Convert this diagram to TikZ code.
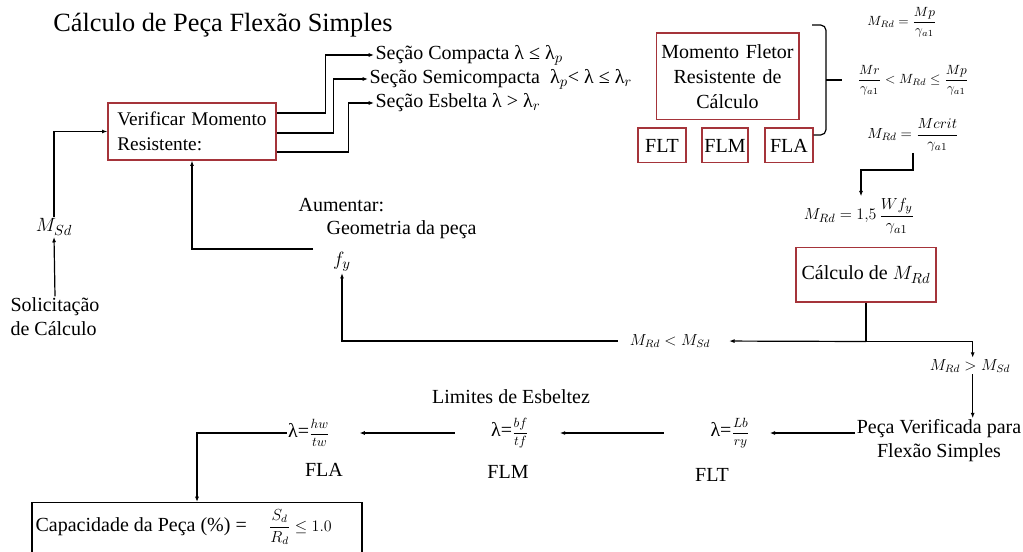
\documentclass[tikz,border=0pt]{standalone}
\usepackage{fontspec}
\setmainfont{Liberation Serif}
\usepackage{amsmath}
\usetikzlibrary{arrows.meta}

\definecolor{boxred}{RGB}{165,52,58}
\newcommand{\ftitle}{\fontsize{19.75}{23}\selectfont}
\newcommand{\fbody}{\fontsize{15}{18}\selectfont}
\newcommand{\fmid}{\fontsize{12.5}{15}\selectfont}
\newcommand{\fsmall}{\fontsize{10}{12}\selectfont}
\newcommand{\fcmp}{\fontsize{11.5}{13}\selectfont}

\begin{document}
\begin{tikzpicture}[x=0.75pt,y=-0.75pt,
  lbl/.style={inner sep=1pt,font=\fbody},
  mlbl/.style={inner sep=1pt,font=\fsmall},
  redbox/.style={draw=boxred,line width=1pt,inner sep=0pt,font=\fbody},
  ln/.style={line width=0.9pt},
  arr/.style={ln,-{Latex[length=4pt,width=3pt]}}
]
\useasboundingbox (0,0) rectangle (1023,552);

% title
\node[inner sep=0,font=\ftitle,anchor=west] (title) at (53,25) {Cálculo de Peça Flexão Simples};

% main check box
\node[redbox,minimum width=126pt,minimum height=42.75pt,text width=112pt,align=left,
  font=\fontsize{14.5}{19}\selectfont]
  (ver) at (192,131.5) {Verificar Momento\\Resistente:};

% section classes
\node[lbl,anchor=west] (c1) at (374,55) {Seção Compacta λ ≤ λ$_p$};
\node[lbl,anchor=west] (c2) at (368,79) {Seção Semicompacta \ λ$_p$< λ ≤ λ$_r$};
\node[lbl,anchor=west] (c3) at (374,103) {Seção Esbelta λ > λ$_r$};
\draw[arr] ([yshift=13.9pt]ver.east) -- ++(49,0) |- (c1.west);
\draw[arr] ([yshift=-1.1pt]ver.east) -- ++(57,0) |- (c2.west);
\draw[arr] ([yshift=-15.4pt]ver.east) -- ++(72,0) |- (c3.west);

% design resisting moment
\node[redbox,minimum width=107pt,minimum height=65pt,text width=105pt,align=center,
  font=\fontsize{15}{18.5}\selectfont]
  (mom) at (727.5,76.5) {Momento Fletor\\Resistente de\\Cálculo};
\node[redbox,minimum width=36pt,minimum height=26pt] (flt) at (662,145.5) {FLT};
\node[redbox,minimum width=34.5pt,minimum height=26pt] (flm) at (725,145.5) {FLM};
\node[redbox,minimum width=36pt,minimum height=26pt] (fla) at (789,145.5) {FLA};

% bracket grouping the three cases
\draw[ln,rounded corners=4pt] (812,25) -- (826,25) -- (826,135) -- ([yshift=7.9pt]fla.east);
\draw[ln] (826,80) -- (842,80);

\node[mlbl] (f1) at (902,22) {$M_{Rd}=\dfrac{Mp}{\gamma_{a1}}$};
\node[mlbl] (f2) at (913,80) {$\dfrac{Mr}{\gamma_{a1}}<M_{Rd}\leq\dfrac{Mp}{\gamma_{a1}}$};
\node[mlbl,font=\fontsize{11}{13}\selectfont] (f3) at (913,135) {$M_{Rd}=\dfrac{Mcrit}{\gamma_{a1}}$};
\node[mlbl,font=\fmid] (f4) at (859,216) {$M_{Rd}=1{,}5\,\dfrac{Wf_y}{\gamma_{a1}}$};
\draw[arr] (f3.south) -- ++(0,17) -| ([xshift=1.5pt]f4.north);

\node[redbox,minimum width=105pt,minimum height=41pt] (calc) at (866,274.5) {Cálculo de $M_{Rd}$};

% demand side
\node[lbl,align=left] (sol) at (55,317) {Solicitação\\de Cálculo};
\node[lbl] (msd) at (54,227) {$M_{Sd}$};
\draw[arr] (sol.north) -- (msd.south);
\draw[arr] (msd.north) |- (ver.west);

% increase geometry / fy
\node[lbl,anchor=west] (aum) at (297,205) {Aumentar:};
\node[lbl,anchor=west] (geo) at (325,230) {Geometria da peça};
\node[lbl] (fy) at (342,262) {$f_y$};
\coordinate (gstart) at (313,249);
\draw[arr] (gstart) -| (ver.south);

% comparison
\node[mlbl,font=\fcmp] (lt) at (670,341) {$M_{Rd}<M_{Sd}$};
\node[mlbl,font=\fcmp] (gt) at (970,366) {$M_{Rd}>M_{Sd}$};
\draw[ln] (calc.south) -- ++(0,39) coordinate (split);
\draw[arr,shorten >=13pt] (split) -- (lt.east);
\draw[arr] (split) -| ([xshift=2pt]gt.north);
\draw[arr] ([xshift=-8pt]lt.west) -| (fy.south);

\node[lbl,align=center] (pv) at (939,441) {Peça Verificada para\\Flexão Simples};
\draw[arr] ([xshift=2pt]gt.south) -- ([xshift=2pt]gt.south |- pv.north);

% slenderness limits
\node[lbl,anchor=center] (lim) at (511,397) {Limites de Esbeltez};
\node[mlbl] (lflt) at (730,433) {\fbody λ=\fsmall$\dfrac{Lb}{ry}$};
\node[lbl] (tflt) at (712,475) {FLT};
\node[mlbl] (lflm) at (510,433) {\fbody λ=\fsmall$\dfrac{bf}{tf}$};
\node[lbl] (tflm) at (508,472) {FLM};
\node[mlbl] (lfla) at (309,433) {\fbody λ=\fsmall$\dfrac{hw}{tw}$};
\node[lbl] (tfla) at (324,470) {FLA};

\draw[arr,shorten >=14pt] (pv.west |- lflt.east) -- (lflt.east);
\draw[arr,shorten <=34pt,shorten >=22pt] (lflt.west) -- (lflm.east);
\draw[arr,shorten <=26pt,shorten >=21pt] (lflm.west) -- (lfla.east);

% capacity
\begin{scope}
\clip (0,0) rectangle (1023,552);
\node[draw,line width=0.9pt,minimum width=247.5pt,minimum height=50pt,inner sep=0pt,
  anchor=north] (cap) at (197,502) {};
\node[lbl,anchor=west] (captxt) at (34,527)
  {Capacidade da Peça (\%) =\hspace{1.1em}\fontsize{11.5}{13}\selectfont$\dfrac{S_d}{R_d}\leq 1.0$};
\end{scope}
\draw[arr] (lfla.west) -| (cap.north);
\end{tikzpicture}
\end{document}
